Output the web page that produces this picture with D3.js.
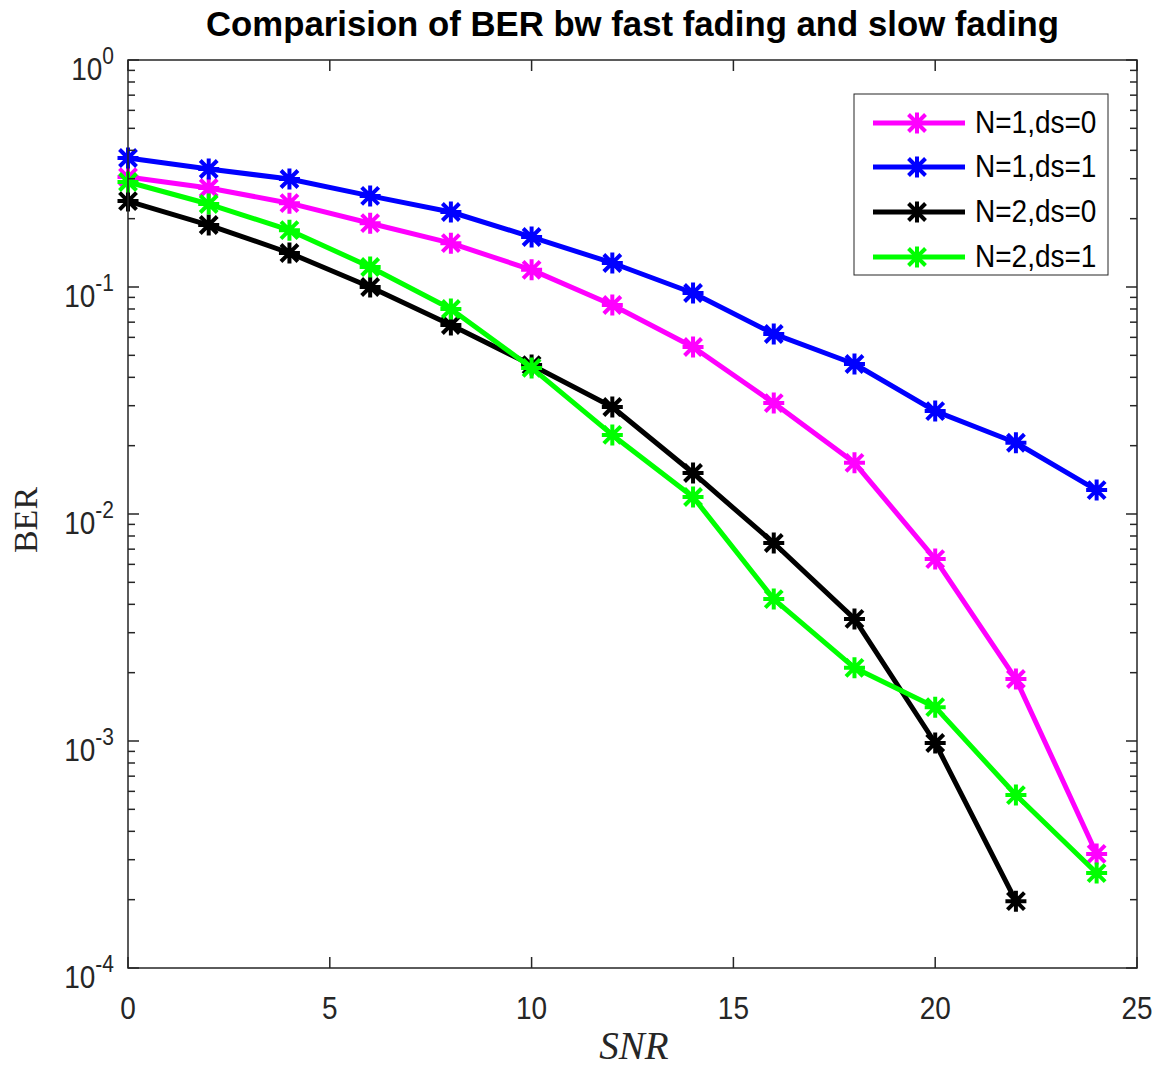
<!DOCTYPE html>
<html>
<head>
<meta charset="utf-8">
<script src="https://cdn.jsdelivr.net/npm/d3@7"></script>
<style>
  html, body { margin: 0; padding: 0; background: #fff; }
  svg { display: block; }
</style>
</head>
<body>
<svg id="chart" width="1159" height="1068"></svg>
<script>
const snr = [0, 2, 4, 6, 8, 10, 12, 14, 16, 18, 20, 22, 24];
const berN1ds0 = [0.305, 0.273, 0.234, 0.191, 0.156, 0.119, 0.0833, 0.0544, 0.0308, 0.0168, 0.00633, 0.001875, 0.000318];
const berN1ds1 = [0.370, 0.331, 0.299, 0.252, 0.214, 0.166, 0.1276, 0.0941, 0.0621, 0.0458, 0.0284, 0.0206, 0.01275];
const berN2ds0 = [0.239, 0.1875, 0.1412, 0.100, 0.0680, 0.0453, 0.0296, 0.01516, 0.00745, 0.00345, 0.00098, 0.000197];
const berN2ds1 = [0.290, 0.232, 0.178, 0.1225, 0.0800, 0.0440, 0.0223, 0.01188, 0.00422, 0.0021, 0.00141, 0.000578, 0.000262];
const seriesNames = ["N=1,ds=0", "N=1,ds=1", "N=2,ds=0", "N=2,ds=1"];
const seriesColors = ["#ff00ff", "#0000ff", "#000000", "#00ff00"];
const xTicks = [0, 5, 10, 15, 20, 25];
const yExponents = [0, -1, -2, -3, -4];
const titleText = "Comparision of BER bw fast fading and slow fading";
const xLabel = "SNR";
const yLabel = "BER";

const allSeries = [berN1ds0, berN1ds1, berN2ds0, berN2ds1];

const svg = d3.select("#chart");
const L = 128, R = 1137, T = 60, B = 968;
const x = d3.scaleLinear().domain([0, 25]).range([L, R]);
const y = d3.scaleLog().domain([1e-4, 1]).range([B, T]);
const axisColor = "#262626";
const sans = "'Liberation Sans', Arial, Helvetica, sans-serif";
const serif = "'Liberation Serif', 'Times New Roman', serif";
const VS = 1.12; // vertical stretch of text

// Title
svg.append("g").attr("transform", `translate(${(L + R) / 2},36) scale(1,1.05)`)
  .append("text")
  .attr("x", 0).attr("y", 0)
  .attr("text-anchor", "middle")
  .attr("font-family", sans).attr("font-weight", "bold").attr("font-size", 33)
  .attr("textLength", 853).attr("lengthAdjust", "spacingAndGlyphs")
  .attr("fill", "#000")
  .text(titleText);

// Plot background
svg.append("rect").attr("x", L).attr("y", T).attr("width", R - L).attr("height", B - T).attr("fill", "#fff");

const g = svg.append("g");

// Data lines and markers
const lineGen = d3.line().x((d, i) => x(snr[i])).y(d => y(d));
function drawMarker(sel, cx, cy, color) {
  const r = 10.5, rd = 8.5;
  const p = `M${cx - r},${cy}L${cx + r},${cy}M${cx},${cy - r}L${cx},${cy + r}` +
            `M${cx - rd},${cy - rd}L${cx + rd},${cy + rd}M${cx - rd},${cy + rd}L${cx + rd},${cy - rd}`;
  sel.append("path").attr("d", p).attr("stroke", color).attr("stroke-width", 4).attr("fill", "none");
}
allSeries.forEach((vals, si) => {
  const sg = g.append("g");
  sg.append("path").datum(vals)
    .attr("d", lineGen)
    .attr("fill", "none").attr("stroke", seriesColors[si]).attr("stroke-width", 5)
    .attr("stroke-linejoin", "round");
  vals.forEach((v, i) => drawMarker(sg, x(snr[i]), y(v), seriesColors[si]));
});

// Axes frame and ticks
const ax = svg.append("g").attr("stroke", axisColor).attr("stroke-width", 1.5).attr("fill", "none");
ax.append("rect").attr("x", L).attr("y", T).attr("width", R - L).attr("height", B - T);

xTicks.forEach(t => {
  ax.append("line").attr("x1", x(t)).attr("x2", x(t)).attr("y1", B).attr("y2", B - 11);
  ax.append("line").attr("x1", x(t)).attr("x2", x(t)).attr("y1", T).attr("y2", T + 11);
});
yExponents.forEach(e => {
  const v = Math.pow(10, e);
  ax.append("line").attr("x1", L).attr("x2", L + 11).attr("y1", y(v)).attr("y2", y(v));
  ax.append("line").attr("x1", R).attr("x2", R - 11).attr("y1", y(v)).attr("y2", y(v));
  if (e > -4) {
    for (let m = 2; m <= 9; m++) {
      const mv = m * Math.pow(10, e - 1);
      ax.append("line").attr("x1", L).attr("x2", L + 7).attr("y1", y(mv)).attr("y2", y(mv));
      ax.append("line").attr("x1", R).attr("x2", R - 7).attr("y1", y(mv)).attr("y2", y(mv));
    }
  }
});

// X tick labels
xTicks.forEach(t => {
  svg.append("g").attr("transform", `translate(${x(t)},1019) scale(1,${VS})`)
    .append("text").attr("x", 0).attr("y", 0)
    .attr("text-anchor", "middle").attr("font-family", sans).attr("font-size", 28)
    .attr("fill", axisColor).text(t);
});
// Y tick labels
yExponents.forEach(e => {
  const ty = y(Math.pow(10, e));
  const t = svg.append("g").attr("transform", `translate(114,${ty + 20}) scale(1,${VS})`)
    .append("text").attr("x", 0).attr("y", 0)
    .attr("text-anchor", "end").attr("font-family", sans).attr("font-size", 28)
    .attr("fill", axisColor);
  t.append("tspan").text("10");
  t.append("tspan").attr("dy", -14).attr("font-size", 21).text(String(e));
});

// Axis labels
svg.append("text").attr("x", 634).attr("y", 1059)
  .attr("text-anchor", "middle").attr("font-family", serif).attr("font-style", "italic")
  .attr("font-size", 39).attr("fill", axisColor).text(xLabel);
svg.append("text").attr("transform", "translate(37,520) rotate(-90)")
  .attr("text-anchor", "middle").attr("font-family", serif)
  .attr("font-size", 34).attr("fill", axisColor).text(yLabel);

// Legend
const lg = svg.append("g");
lg.append("rect").attr("x", 854).attr("y", 94).attr("width", 254).attr("height", 181)
  .attr("fill", "#fff").attr("stroke", axisColor).attr("stroke-width", 1);
const legY = [123, 167, 212, 257];
seriesNames.forEach((name, i) => {
  lg.append("line").attr("x1", 873).attr("x2", 965).attr("y1", legY[i]).attr("y2", legY[i])
    .attr("stroke", seriesColors[i]).attr("stroke-width", 5);
  drawMarker(lg, 917, legY[i], seriesColors[i]);
  lg.append("g").attr("transform", `translate(975,${legY[i] + 10}) scale(1,${VS})`)
    .append("text").attr("x", 0).attr("y", 0)
    .attr("font-family", sans).attr("font-size", 28).attr("fill", "#000").text(name);
});
</script>
</body>
</html>
